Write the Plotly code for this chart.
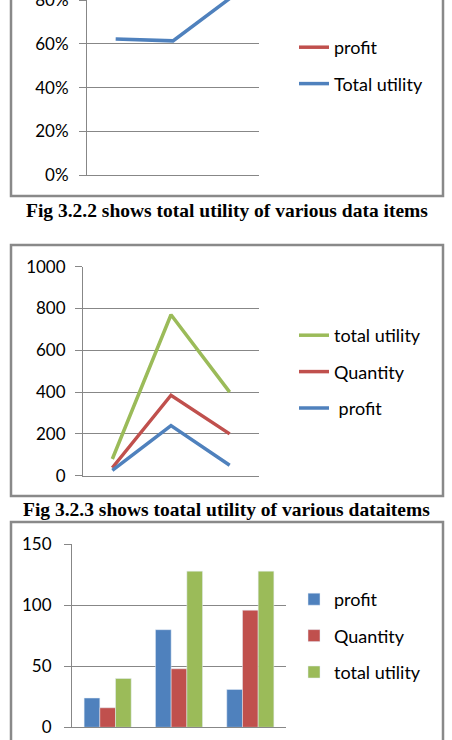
import plotly.graph_objects as go

W, H = 452, 740

# ---------------- data ----------------
items = ["item 1", "item 2", "item 3"]

# Chart 1 (Fig 3.2.2) - percentages
c1_total_utility = [0.623, 0.614, 0.81]
c1_profit = [None, None, None]  # not visible in the picture

# Chart 2 (Fig 3.2.3) - line chart
c2_total_utility = [80, 770, 400]
c2_quantity = [38, 385, 200]
c2_profit = [25, 240, 50]

# Chart 3 - grouped bars
c3_profit = [24, 80, 31]
c3_quantity = [16, 48, 96]
c3_total_utility = [40, 128, 128]

caption1 = "Fig 3.2.2 shows total utility of various data items"
caption2 = "Fig 3.2.3 shows toatal utility of various dataitems"

BLUE, RED, GREEN = "#4F81BD", "#C0504D", "#9BBB59"
GRID = "#878787"
FONT = "Lato"

def px_x(p):
    return p / W

def px_y(p):
    return 1 - p / H

fig = go.Figure()

# chart 1
fig.add_trace(go.Scatter(x=items, y=c1_profit, name="profit", mode="lines",
                         line=dict(color=RED, width=3.5), xaxis="x", yaxis="y",
                         legend="legend", legendgroup="a1"))
fig.add_trace(go.Scatter(x=items, y=c1_total_utility, name="Total utility", mode="lines",
                         line=dict(color=BLUE, width=3.5), xaxis="x", yaxis="y",
                         legend="legend", legendgroup="b1"))

# chart 2
fig.add_trace(go.Scatter(x=items, y=c2_total_utility, name="total utility", mode="lines",
                         line=dict(color=GREEN, width=3.5), xaxis="x2", yaxis="y2",
                         legend="legend2", legendgroup="a2"))
fig.add_trace(go.Scatter(x=items, y=c2_quantity, name="Quantity", mode="lines",
                         line=dict(color=RED, width=3.5), xaxis="x2", yaxis="y2",
                         legend="legend2", legendgroup="b2"))
fig.add_trace(go.Scatter(x=items, y=c2_profit, name=" profit", mode="lines",
                         line=dict(color=BLUE, width=3.5), xaxis="x2", yaxis="y2",
                         legend="legend2", legendgroup="c2"))

# chart 3
fig.add_trace(go.Bar(x=items, y=c3_profit, name="profit", marker_color=BLUE,
                     xaxis="x3", yaxis="y3", legend="legend3", legendgroup="a3"))
fig.add_trace(go.Bar(x=items, y=c3_quantity, name="Quantity", marker_color=RED,
                     xaxis="x3", yaxis="y3", legend="legend3", legendgroup="b3"))
fig.add_trace(go.Bar(x=items, y=c3_total_utility, name="total utility", marker_color=GREEN,
                     xaxis="x3", yaxis="y3", legend="legend3", legendgroup="c3"))

tickfont = dict(family=FONT, size=17, color="#000000")

def xax(domain, anchor):
    return dict(domain=domain, anchor=anchor, showticklabels=False, showgrid=False,
                zeroline=False, showline=True, linecolor=GRID, linewidth=1,
                ticks="", range=[-0.5, 2.5], fixedrange=True, automargin=False)

def yax(domain, anchor, rng, dtick, fmt=None, standoff=12):
    d = dict(domain=domain, anchor=anchor, range=rng, dtick=dtick, showgrid=True,
             gridcolor=GRID, gridwidth=1, zeroline=False, showline=True,
             linecolor=GRID, linewidth=1, ticks="outside", ticklen=7,
             tickcolor=GRID, tickfont=tickfont, ticklabelstandoff=standoff,
             ticklabeloverflow="allow", fixedrange=True, automargin=False)
    if fmt:
        d["tickformat"] = fmt
    return d

fig.update_layout(
    width=W, height=H, margin=dict(l=0, r=0, t=0, b=0, autoexpand=False),
    paper_bgcolor="white", plot_bgcolor="white",
    barmode="group", bargap=0.34, bargroupgap=0,
    xaxis=xax([px_x(87), px_x(259)], "y"),
    yaxis=yax([px_y(175), 1.0], "x", [0, 0.801], 0.2, ".0%", 7),
    xaxis2=xax([px_x(83), px_x(259)], "y2"),
    yaxis2=yax([px_y(475.7), px_y(266.7)], "x2", [0, 1000], 200, None, 6),
    xaxis3=xax([px_x(72), px_x(286)], "y3"),
    yaxis3=yax([px_y(727.3), px_y(544.3)], "x3", [0, 150], 50, None, 9),
)

legend_common = dict(font=dict(family=FONT, size=18, color="#000000"),
                     bgcolor="rgba(0,0,0,0)", borderwidth=0,
                     xanchor="left", yanchor="top", tracegroupgap=10,
                     itemclick=False, itemdoubleclick=False)
fig.update_layout(
    legend=dict(x=px_x(294), y=px_y(29), **legend_common),
    legend2=dict(x=px_x(294), y=px_y(317), **legend_common),
    legend3=dict(x=px_x(294), y=px_y(581), **legend_common),
    showlegend=True,
)

# chart frames
frame = dict(type="rect", xref="paper", yref="paper", line=dict(color="#898989", width=2.5),
             fillcolor="rgba(0,0,0,0)", layer="above")
fig.add_shape(x0=px_x(11), x1=px_x(443), y0=px_y(196), y1=1.05, **frame)
fig.add_shape(x0=px_x(11), x1=px_x(443), y0=px_y(496), y1=px_y(245), **frame)
fig.add_shape(x0=px_x(11), x1=px_x(443), y0=-0.05, y1=px_y(522), **frame)

capfont = dict(family="Liberation Serif", size=19.5, color="#000000")
fig.add_annotation(text="<b>" + caption1 + "</b>", x=px_x(227), y=px_y(210),
                   xref="paper", yref="paper", showarrow=False, font=capfont,
                   xanchor="center", yanchor="middle")
fig.add_annotation(text="<b>" + caption2 + "</b>", x=px_x(227), y=px_y(510),
                   xref="paper", yref="paper", showarrow=False, font=capfont,
                   xanchor="center", yanchor="middle")

fig.write_html("out.html", config={"displayModeBar": False})
